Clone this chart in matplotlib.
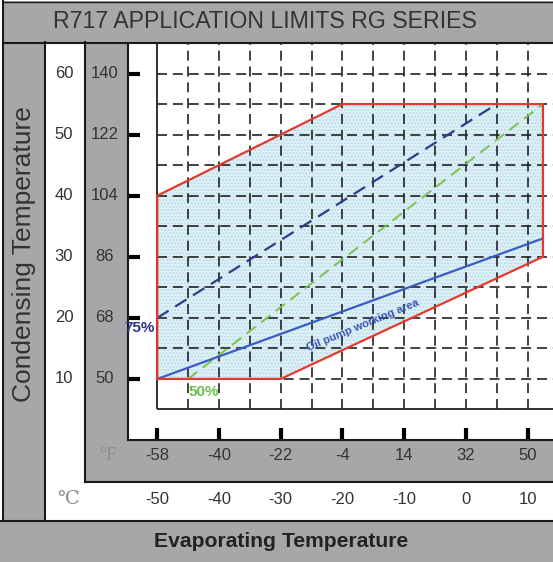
import numpy as np
import matplotlib
matplotlib.use('Agg')
import matplotlib.pyplot as plt
from matplotlib.patches import Rectangle, Polygon
from matplotlib.lines import Line2D
from matplotlib.transforms import blended_transform_factory

plt.rcParams['font.family'] = ['Liberation Sans', 'DejaVu Sans']

# condensing temperature ticks (left)
cond_c = [10, 20, 30, 40, 50, 60]
cond_f = [50, 68, 86, 104, 122, 140]
# evaporating temperature ticks (bottom)
evap_c = [-50, -40, -30, -20, -10, 0, 10]
evap_f = [-58, -40, -22, -4, 14, 32, 50]

# application envelope (evap C, cond C)
env_evap = [-50, -30, 12.5, 12.5, -20, -50]
env_cond = [10, 10, 30, 55, 55, 40]

# 75% line, 50% line, oil pump line
l75_evap = [-50, 5]
l75_cond = [20, 55]
l50_evap = [-45, 12.5]
l50_cond = [10, 55]
oil_evap = [-50, 12.5]
oil_cond = [10, 33]

W, H = 553, 562
GRAY = '#a7a7a9'
TXT = '#333333'


def fx(px):
    return px / W


def fy(py):
    return 1 - py / H


fig = plt.figure(figsize=(W / 100, H / 100), dpi=100)
fig.patch.set_facecolor('white')


def panel(x0, y0, x1, y1, color=GRAY):
    r = Rectangle((fx(x0), fy(y1)), fx(x1) - fx(x0), fy(y0) - fy(y1),
                  transform=fig.transFigure, facecolor=color, edgecolor='none', zorder=0)
    fig.add_artist(r)


def hline(py, x0, x1, lw=1.5):
    fig.add_artist(Line2D([fx(x0), fx(x1)], [fy(py), fy(py)], transform=fig.transFigure,
                          color='#1a1a1a', lw=lw, zorder=0.5))


def vline(px, y0, y1, lw=1.5):
    fig.add_artist(Line2D([fx(px), fx(px)], [fy(y0), fy(y1)], transform=fig.transFigure,
                          color='#1a1a1a', lw=lw, zorder=0.5))


# background bands
panel(3, 1, 553, 42)        # title
panel(3, 42, 45, 521)       # condensing label column
panel(85, 42, 128, 482)     # F column
panel(85, 440, 553, 482)    # F row
panel(0, 521, 553, 562)     # evaporating band

hline(1.5, 3, 553, 1.0)
hline(42.5, 3, 553)
hline(482, 85, 553)
hline(521, 0, 553)
vline(3, 1, 521)
vline(45, 42, 521)
vline(85, 42, 482)

fig.text(fx(265), fy(22), 'R717 APPLICATION LIMITS RG SERIES', fontsize=16.7,
         color=TXT, ha='center', va='center')
fig.text(fx(24), fy(254), 'Condensing Temperature', fontsize=19, color=TXT,
         rotation=90, ha='center', va='center')
fig.text(fx(281), fy(541.5), 'Evaporating Temperature', fontsize=15.2,
         fontweight='bold', color='#222222', ha='center', va='center')
fig.text(fx(108), fy(456), '°F', fontsize=13, color='#8a8a8a',
         family=['Liberation Serif', 'DejaVu Serif'], ha='center', va='center')
fig.text(fx(68), fy(500), '℃', fontsize=14, color='#8a8a8a',
         family=['Liberation Serif', 'DejaVu Serif', 'DejaVu Sans'], ha='center', va='center')

ax = fig.add_axes([fx(128), fy(440), fx(553) - fx(128), fy(43) - fy(440)])
ax.set_zorder(1)
ax.set_facecolor('none')
ax.set_xlim(-54.75, 14.13)
ax.set_ylim(0, 65)

for s in ['top', 'right']:
    ax.spines[s].set_visible(False)
for s in ['left', 'bottom']:
    ax.spines[s].set_linewidth(1.5)
    ax.spines[s].set_color('#1a1a1a')

ax.set_xticks(evap_c)
ax.set_yticks(cond_c)
ax.tick_params(direction='in', length=8.5, width=3, color='black',
               labelleft=False, labelbottom=False)

# grid
grid_x = np.arange(-45, 14, 5)
grid_y = np.arange(10, 64, 5)
ax.vlines(grid_x, 5, 65, colors='#222222', lw=1.2, linestyles=(0, (6, 3.5)), zorder=2)
ax.hlines(grid_y, -50, 14.13, colors='#222222', lw=1.2, linestyles=(0, (6, 3.5)), zorder=2)
ax.vlines([-50], 5, 65, colors='#222222', lw=1.3, zorder=2)
ax.hlines([5], -50, 14.13, colors='#222222', lw=1.3, zorder=2)

# envelope fill + outline
env_pts = np.column_stack([env_evap, env_cond])
ax.add_patch(Polygon(env_pts, closed=True, facecolor='#e0f2f8', edgecolor='#b6dbe8',
                     hatch='.....', lw=0, zorder=1))
ax.add_patch(Polygon(env_pts, closed=True, facecolor='none', edgecolor='#e8382c',
                     lw=1.6, zorder=4))

ax.plot(l75_evap, l75_cond, color='#2f3c88', lw=1.6, dashes=(6, 3.5), zorder=3)
ax.plot(l50_evap, l50_cond, color='#7cc14c', lw=1.4, dashes=(6, 3.5), zorder=3)
ax.plot(oil_evap, oil_cond, color='#3b5cc0', lw=1.6, zorder=3)

ax.text(-52.8, 18.4, '75%', fontsize=11, fontweight='bold', color='#2e3584',
        ha='center', va='center', zorder=5, clip_on=False)
ax.text(-42.4, 7.9, '50%', fontsize=11, fontweight='bold', color='#6cc04a',
        ha='center', va='center', zorder=5)
ax.text(-16.7, 18.8, 'Oil pump working area', fontsize=8, fontweight='bold',
        color='#3a55b0', rotation=22.5, rotation_mode='anchor', ha='center', va='center', zorder=5)

# tick labels in the bands
ytr = blended_transform_factory(fig.transFigure, ax.transData)
for c, f in zip(cond_c, cond_f):
    ax.text(fx(64), c, str(c), transform=ytr, fontsize=12, color=TXT,
            ha='center', va='center', clip_on=False)
    ax.text(fx(104.5), c, str(f), transform=ytr, fontsize=12, color=TXT,
            ha='center', va='center', clip_on=False)

xtr = blended_transform_factory(ax.transData, fig.transFigure)
for c, f in zip(evap_c, evap_f):
    ax.text(c, fy(456), str(f), transform=xtr, fontsize=12, color=TXT,
            ha='center', va='center', clip_on=False)
    ax.text(c, fy(500), str(c), transform=xtr, fontsize=12, color=TXT,
            ha='center', va='center', clip_on=False)

fig.savefig('out.png', dpi=100)
